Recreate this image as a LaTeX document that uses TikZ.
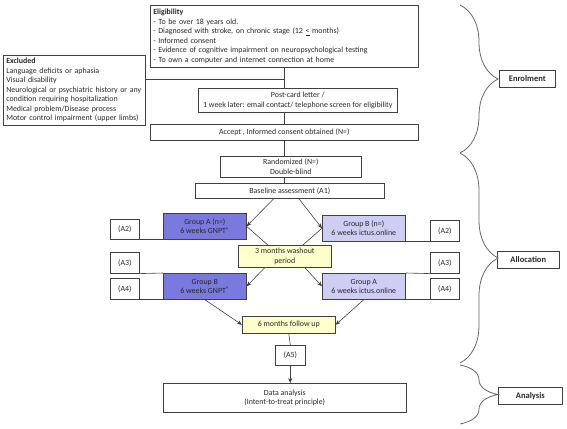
\documentclass[tikz,border=0pt]{standalone}
\usepackage{fontspec}
\setmainfont{Carlito}
\usepackage{xcolor}
\usepackage{tikz}
\usetikzlibrary{arrows.meta,positioning,calc,decorations.pathreplacing}
\definecolor{grpdark}{RGB}{122,122,222}
\definecolor{grplight}{RGB}{206,206,245}
\definecolor{notefill}{RGB}{255,255,204}
\definecolor{linegray}{RGB}{64,64,64}
\newcommand{\regmark}{\raisebox{1.8pt}{\fontsize{6.8}{7}\selectfont ®}}

\begin{document}
\begin{tikzpicture}[x=1pt, y=-1pt, every node/.style={font=\fontsize{7.9}{9.5}\selectfont, text=black!85},
    box/.style={draw=linegray, line width=0.6pt, inner xsep=3pt, inner ysep=1pt, anchor=north west},
    group/.style={box, minimum width=83pt, minimum height=26pt, align=center},
    tag/.style={box, minimum width=29pt, minimum height=21pt},
    phase/.style={draw=linegray, line width=0.6pt, font=\fontsize{8.5}{10}\selectfont\bfseries, minimum height=17pt, anchor=north west},
    conn/.style={draw=linegray, line width=0.6pt},
    arr/.style={conn, -{Stealth[length=5pt,width=4pt]}},
    curly/.style={draw=black!60, line width=0.8pt, decorate, decoration={brace, amplitude=38pt}}]
    \useasboundingbox (0,0) rectangle (567,428);

    % Enrolment
    \node[box, text width=262pt, minimum height=62pt, align=left] (elig) at (150,5) {\textbf{Eligibility}\\- To be over 18 years old.\\- Diagnosed with stroke,  on chronic stage  (12 \underline{<} months)\\- Informed consent\\- Evidence of cognitive impairment on neuropsychological testing\\- To own a computer and internet connection at home};
    \node[box, text width=136pt, minimum height=70pt, align=left] (excl) at (3,55) {\textbf{Excluded}\\Language deficits or aphasia\\Visual disability\\Neurological or psychiatric history or any\\condition requiring hospitalization\\Medical problem/Disease process\\Motor control impairment (upper limbs)};
    \node[box, minimum width=199pt, minimum height=24pt, align=center] (post) at (198,88) {Post-card letter /\\1 week later: email contact/ telephone screen for eligibility};
    \node[box, minimum width=268pt, minimum height=16pt] (accept) at (150,124) {Accept , Informed consent obtained (N=)};

    % Allocation
    \node[box, minimum width=141pt, minimum height=21pt, align=center] (rand) at (220,156) {Randomized (N=)\\Double-blind};
    \node[box, minimum width=189pt, minimum height=15pt] (base) at (195,183) {Baseline assessment (A1)};
    \node[group, fill=grpdark] (grpA1) at (163,213) {Group A (n=)\\6 weeks GNPT\regmark};
    \node[group, fill=grplight] (grpB1) at (322,215) {Group B (n=)\\6 weeks ictus.online};
    \node[box, fill=notefill, minimum width=93pt, minimum height=22pt, align=center] (wash) at (238,245) {3 months washout\\period};
    \node[group, fill=grpdark] (grpB2) at (163,273) {Group B\\6 weeks GNPT\regmark};
    \node[group, fill=grplight] (grpA2) at (322,273) {Group A\\6 weeks ictus.online};
    \node[tag, minimum height=20pt] (a2l) at (110,219) {(A2)};
    \node[tag] (a2r) at (430,220) {(A2)};
    \node[tag] (a3l) at (110,252) {(A3)};
    \node[tag] (a3r) at (430,252) {(A3)};
    \node[tag] (a4l) at (110,278) {(A4)};
    \node[tag] (a4r) at (430,278) {(A4)};
    \node[box, fill=notefill, minimum width=93pt, minimum height=17pt] (follow) at (242,316) {6 months follow up};
    \node[tag, minimum width=30pt, minimum height=20pt] (a5) at (275,345) {(A5)};

    % Analysis
    \node[box, minimum width=243pt, minimum height=29pt, align=center] (data) at (163,383) {Data analysis\\(Intent-to-treat principle)};

    % Phases
    \node[phase, minimum width=56pt] (enrol) at (499,70) {Enrolment};
    \node[phase, minimum width=62pt] (alloc) at (497,251) {Allocation};
    \node[phase, minimum width=64pt] (analys) at (498,387) {Analysis};
    \draw[curly] (460,5) -- (460,153);
    \draw[curly] (460,153) -- (460,363);
    \draw[curly] (460,365) -- (460,424);

    % Connectors
    \draw[conn] (elig.south) -- (elig.south |- post.north);
    \draw[conn] ([yshift=11pt]excl.east) -- ([yshift=11pt]excl.east -| elig.south);
    \draw[conn] (elig.south |- post.south) -- (elig.south |- accept.north);
    \draw[conn] (accept.south) -- (accept.south |- rand.north);
    \draw[conn] (accept.south |- rand.south) -- (accept.south |- base.north);
    \draw[arr] ($(base.south)+(-16,0)$) -- (grpA1.east);
    \draw[arr] ($(base.south)+(9,0)$) -- (grpB1.west);
    \draw[conn] (grpA1.east) -- ($(wash.north)+(-17,0)$);
    \draw[conn] (grpB1.west) -- ($(wash.north)+(18,0)$);
    \draw[arr] ($(wash.south)+(-20,0)$) -- (grpB2.east);
    \draw[arr] ($(wash.south)+(20,0)$) -- (grpA2.west);
    \draw[arr] (grpB2.south) -- (follow.west);
    \draw[arr] (grpA2.south) -- (follow.east);
    \draw[conn] (follow.south) -- (a5.north);
    \draw[arr] (a5.south) -- (a5.south |- data.north);
    \draw[conn] (a2l.south east) -- (grpA1.south west);
    \draw[conn] (grpB1.south east) -- (a2r.south west);
    \draw[conn] (a3l.south east) -- (grpB2.north west);
    \draw[conn] (grpA2.north east) -- (a3r.south west);
    \draw[conn] (a4l.south east) -- (grpB2.south west);
    \draw[conn] (grpA2.south east) -- (a4r.south west);
\end{tikzpicture}
\end{document}
